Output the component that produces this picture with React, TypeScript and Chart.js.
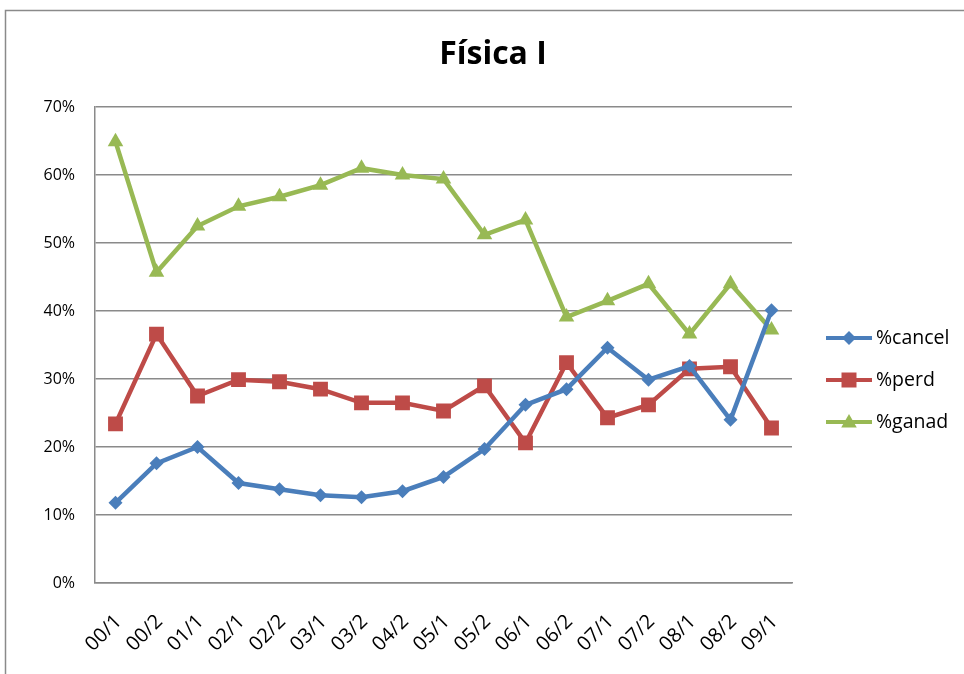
import React, { useEffect, useRef } from "react";
import { Chart, registerables } from "chart.js";

Chart.register(...registerables);

const categories = ["00/1","00/2","01/1","02/1","02/2","03/1","03/2","04/2","05/1","05/2","06/1","06/2","07/1","07/2","08/1","08/2","09/1"];
const cancel = [11.8,17.6,20.0,14.7,13.8,12.9,12.6,13.5,15.6,19.7,26.2,28.5,34.6,29.9,31.9,24.0,40.1];
const perd = [23.4,36.6,27.5,29.9,29.6,28.5,26.5,26.5,25.3,29.0,20.6,32.4,24.3,26.2,31.5,31.8,22.8];
const ganad = [64.9,45.7,52.5,55.4,56.8,58.5,61.0,60.0,59.4,51.2,53.4,39.1,41.5,44.0,36.6,44.0,37.2];
const seriesNames = ["%cancel", "%perd", "%ganad"];
const yTicks = [0, 10, 20, 30, 40, 50, 60, 70];
const title = "Física I";

const FONT = "'Open Sans', 'Liberation Sans', sans-serif";

export default function App() {
  const ref = useRef<HTMLCanvasElement | null>(null);
  useEffect(() => {
    if (!ref.current) return;
    const colors = ["#4a7ebb", "#be4b48", "#98b954"];
    const styles = ["rectRot", "rect", "triangle"];
    const radii = [7, 10.5, 9];
    const data = [cancel, perd, ganad];
    function drawMarker(ctx: CanvasRenderingContext2D, style: string, x: number, y: number) {
      ctx.beginPath();
      if (style === "rectRot") {
        const r = 7;
        ctx.moveTo(x, y - r); ctx.lineTo(x + r, y); ctx.lineTo(x, y + r); ctx.lineTo(x - r, y);
      } else if (style === "rect") {
        const s = 7.5;
        ctx.rect(x - s, y - s, 2 * s, 2 * s);
      } else {
        const r = 9;
        ctx.moveTo(x, y - r);
        ctx.lineTo(x + r * 0.866, y + r * 0.5);
        ctx.lineTo(x - r * 0.866, y + r * 0.5);
      }
      ctx.closePath();
      ctx.fill();
    }
    const decor = {
      id: "decor",
      beforeDraw(chart: any) {
        const ctx = chart.ctx;
        ctx.save();
        ctx.fillStyle = "#ffffff";
        ctx.fillRect(0, 0, chart.width, chart.height);
        ctx.strokeStyle = "#8a8a8a";
        ctx.lineWidth = 1.5;
        ctx.strokeRect(5.5, 10.5, 1200, 1200);
        ctx.restore();
      },
      afterDraw(chart: any) {
        const ctx = chart.ctx;
        ctx.save();
        ctx.fillStyle = "#000";
        ctx.font = `bold 32px ${FONT}`;
        ctx.textAlign = "center";
        ctx.textBaseline = "middle";
        ctx.fillText(title, 493, 55);
        const ys = [338, 380, 422];
        seriesNames.forEach((n, i) => {
          const y = ys[i];
          ctx.strokeStyle = colors[i];
          ctx.lineWidth = 4;
          ctx.beginPath();
          ctx.moveTo(826, y);
          ctx.lineTo(872, y);
          ctx.stroke();
          ctx.fillStyle = colors[i];
          drawMarker(ctx, styles[i], 849, y + (i === 2 ? 1 : 0));
          ctx.fillStyle = "#000";
          ctx.font = `19.5px ${FONT}`;
          ctx.textAlign = "left";
          ctx.textBaseline = "middle";
          ctx.fillText(n, 876, y);
        });
        ctx.restore();
      },
    };
    const chart = new Chart(ref.current, {
      type: "line",
      data: {
        labels: categories,
        datasets: data.map((d, i) => ({
          label: seriesNames[i],
          data: d,
          borderColor: colors[i],
          backgroundColor: colors[i],
          borderWidth: 4.5,
          pointStyle: styles[i] as any,
          pointRadius: radii[i],
          pointBorderWidth: 0,
          tension: 0,
          fill: false,
        })),
      },
      options: {
        responsive: false,
        animation: false,
        layout: { padding: { left: 10, right: 172, top: 107, bottom: 0 } },
        plugins: { legend: { display: false }, title: { display: false }, tooltip: { enabled: false } },
        scales: {
          x: {
            offset: true,
            grid: { display: false, drawTicks: false },
            border: { color: "#8a8a8a", width: 1.5 },
            ticks: { minRotation: 45, maxRotation: 45, color: "#000", font: { family: FONT, size: 20 }, padding: 27, labelOffset: 3, autoSkip: false },
            afterFit: (s: any) => { s.height = 91; },
          },
          y: {
            min: 0,
            max: 70,
            afterBuildTicks: (s: any) => { s.ticks = yTicks.map((v) => ({ value: v })); },
            grid: { color: "#8a8a8a", lineWidth: 1.5, drawTicks: false },
            border: { color: "#8a8a8a", width: 1.5 },
            ticks: { color: "#000", font: { family: FONT, size: 16 }, padding: 20, callback: (v: any) => `${v}%` },
            afterFit: (s: any) => { s.width = 85; },
          },
        },
      },
      plugins: [decor],
    });
    return () => chart.destroy();
  }, []);
  return (
    <div style={{ position: "absolute", left: 0, top: 0, width: 964, height: 674 }}>
      <canvas ref={ref} width={964} height={674} />
    </div>
  );
}
